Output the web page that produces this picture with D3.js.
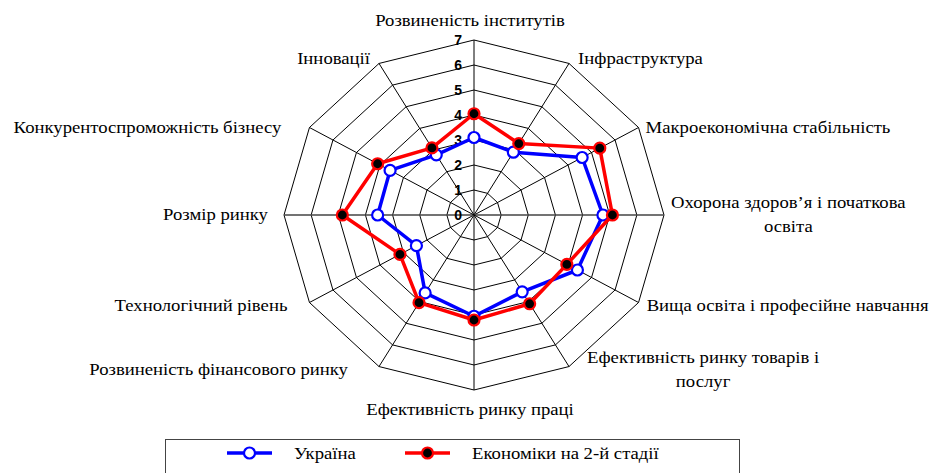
<!DOCTYPE html>
<html>
<head>
<meta charset="utf-8">
<script src="https://cdn.jsdelivr.net/npm/d3@7"></script>
<style>
  body { margin: 0; background: #fff; }
  svg { display: block; }
  .serif { font-family: "Liberation Serif", "Times New Roman", serif; font-size: 17px; }
  .num { font-family: "Liberation Sans", Arial, sans-serif; font-weight: bold; font-size: 14px; }
</style>
</head>
<body>
<div id="chart"></div>
<script>
let width = 929,
    height = 473,
    cx = 474, cy = 215,
    rx = 190, ry = 175,
    stretch = 1.1; // the original picture is stretched horizontally

const categories = [
  "Розвиненість інститутів",
  "Інфраструктура",
  "Макроекономічна стабільність",
  "Охорона здоров’я і початкова\nосвіта",
  "Вища освіта і професійне навчання",
  "Ефективність ринку товарів і\nпослуг",
  "Ефективність ринку праці",
  "Розвиненість фінансового ринку",
  "Технологічний рівень",
  "Розмір ринку",
  "Конкурентоспроможність бізнесу",
  "Інновації"
];
const ukraine = [3.1, 2.9, 4.6, 4.75, 4.4, 3.55, 4.05, 3.6, 2.45, 3.55, 3.57, 2.78];
const stage2  = [4.05, 3.3, 5.35, 5.1, 3.95, 4.1, 4.2, 4.05, 3.15, 4.85, 4.1, 3.1];
const levels = [0, 1, 2, 3, 4, 5, 6, 7];
const seriesNames = ["Україна", "Економіки на 2-й стадії"];

// gap between outer vertex and label text (layout only)
const labelGap = [14, 9, 7, 7, 8, 18, 20, 31, 22, 16, 28, 9];

const svg = d3.select("#chart")
  .append("svg")
  .attr("width", width)
  .attr("height", height);

let rX = d3.scaleLinear().domain([0, 7]).range([0, rx]);
let rY = d3.scaleLinear().domain([0, 7]).range([0, ry]);
let angle = d3.scaleLinear().domain([0, categories.length]).range([0, 2 * Math.PI]);

function pt(i, v) {
  let a = angle(i);
  return [cx + rX(v) * Math.sin(a), cy - rY(v) * Math.cos(a)];
}

let ring = d3.line().curve(d3.curveLinearClosed);

// grid rings
svg.append("g")
  .selectAll("path")
  .data(levels.slice(1))
  .join("path")
  .attr("d", l => ring(categories.map((c, i) => pt(i, l))))
  .attr("fill", "none")
  .attr("stroke", "#000")
  .attr("stroke-width", 1);

// spokes
svg.append("g")
  .selectAll("line")
  .data(categories)
  .join("line")
  .attr("x1", cx).attr("y1", cy)
  .attr("x2", (d, i) => pt(i, 7)[0])
  .attr("y2", (d, i) => pt(i, 7)[1])
  .attr("stroke", (d, i) => (i % 6 === 3) ? "#444" : "#000")
  .attr("stroke-width", (d, i) => (i % 6 === 3) ? 1.5 : 1);

// level numbers
svg.append("g")
  .selectAll("text")
  .data(levels)
  .join("text")
  .attr("class", "num")
  .attr("x", cx - 12)
  .attr("y", l => cy - rY(l))
  .attr("dy", "0.36em")
  .attr("text-anchor", "end")
  .text(l => l);

// category labels
let labels = svg.append("g")
  .selectAll("text")
  .data(categories)
  .join("text")
  .attr("class", "serif")
  .attr("text-anchor", "middle");

labels.each(function (d, i) {
  let t = d3.select(this);
  let lines = d.split("\n");
  lines.forEach(s => t.append("tspan").text(s));
  let maxW = stretch * d3.max(t.selectAll("tspan").nodes(), n => n.getComputedTextLength());
  let [vx, vy] = pt(i, 7);
  let lineH = 24;
  let x, yTop;
  if (i === 0) {
    x = vx - 4;
    yTop = vy - labelGap[i] - (lines.length - 1) * lineH;
  } else if (i === 6) {
    x = vx - 4; yTop = vy + labelGap[i] + 5;
  } else {
    x = i < 6 ? vx + labelGap[i] + maxW / 2 : vx - labelGap[i] - maxW / 2;
    let shift = (i > 3 && i < 9) ? 3 : (i === 1 || i === 11 ? -4 : 0);
    yTop = vy + shift - (lines.length - 1) * lineH / 2 + 5;
  }
  t.attr("transform", `translate(${x},${yTop}) scale(${stretch},1)`);
  t.selectAll("tspan").attr("x", 0).attr("dy", (s, k) => k === 0 ? 0 : lineH);
});

// series
let series = [
  { name: seriesNames[0], values: ukraine, stroke: "#0000ff", fill: "#fff" },
  { name: seriesNames[1], values: stage2, stroke: "#ff0000", fill: "#000" }
];

for (let s of series) {
  let pts = s.values.map((v, i) => pt(i, v));
  svg.append("path")
    .attr("d", ring(pts))
    .attr("fill", "none")
    .attr("stroke", s.stroke)
    .attr("stroke-width", 3.5)
    .attr("stroke-linejoin", "round");
  svg.append("g")
    .selectAll("circle")
    .data(pts)
    .join("circle")
    .attr("cx", d => d[0])
    .attr("cy", d => d[1])
    .attr("r", 5.5)
    .attr("fill", s.fill)
    .attr("stroke", s.stroke)
    .attr("stroke-width", 2.2);
}

// legend
svg.append("rect")
  .attr("x", 165.5).attr("y", 439.5)
  .attr("width", 574).attr("height", 50)
  .attr("fill", "#fff")
  .attr("stroke", "#444")
  .attr("stroke-width", 1);

let legendX = [227, 405];
let legend = svg.append("g")
  .selectAll("g")
  .data(series)
  .join("g")
  .attr("transform", (d, i) => `translate(${legendX[i]},453)`);

legend.append("line")
  .attr("x1", 0).attr("x2", 45)
  .attr("stroke", d => d.stroke)
  .attr("stroke-width", 3.5);

legend.append("circle")
  .attr("cx", 22.5)
  .attr("r", 5.5)
  .attr("fill", d => d.fill)
  .attr("stroke", d => d.stroke)
  .attr("stroke-width", 2.2);

legend.append("text")
  .attr("class", "serif")
  .attr("transform", `translate(67,0) scale(${stretch},1)`)
  .attr("dy", "0.35em")
  .text(d => d.name);
</script>
</body>
</html>
